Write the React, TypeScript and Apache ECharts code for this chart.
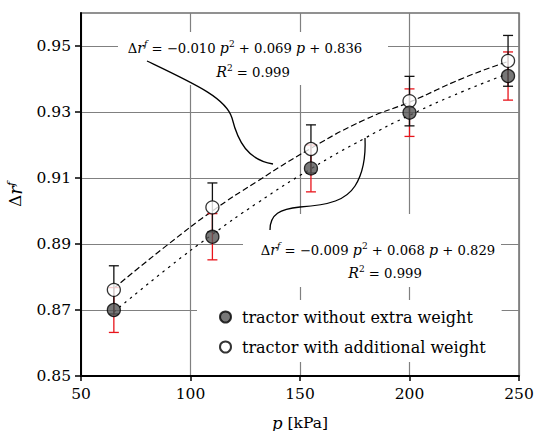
import React, { useEffect, useRef } from "react";
import * as echarts from "echarts";

// ---- data ----
const pressures = [65, 110, 155, 200, 245];
const withoutWeight = [0.870, 0.8922, 0.9129, 0.9298, 0.9409];
const withoutErr = [0.0068, 0.0070, 0.0071, 0.0072, 0.0073];
const withWeight = [0.8761, 0.9011, 0.9188, 0.9333, 0.9455];
const withErr = [0.0073, 0.0074, 0.0073, 0.0075, 0.0077];
const fitP = [65, 90, 110, 130, 155, 180, 200, 225, 245];
const fitWith = [0.8766, 0.890, 0.900, 0.9088, 0.919, 0.9278, 0.933, 0.9404, 0.9453];
const fitWithout = [0.8694, 0.8829, 0.8929, 0.9022, 0.9128, 0.9222, 0.929, 0.9364, 0.9416];
const yTicks = [0.85, 0.87, 0.89, 0.91, 0.93, 0.95];
const seriesNames = ["tractor without extra weight", "tractor with additional weight"];

const FONT = "DejaVu Serif";

const rich = {
  n: { fontFamily: FONT, fontSize: 13.2, color: "#000", lineHeight: 18 },
  i: { fontFamily: FONT, fontSize: 14.2, fontStyle: "italic", color: "#000", lineHeight: 18 },
  sup: { fontFamily: FONT, fontSize: 9, color: "#000", lineHeight: 9, verticalAlign: "top" },
  si: { fontFamily: FONT, fontSize: 9, fontStyle: "italic", color: "#000", lineHeight: 9, verticalAlign: "top" },
};

echarts.graphic.registerShape(
  "leader1",
  echarts.graphic.extendPath(
    "M147,61 C195,84 226,98 232,118 C238,142 248,160 273,164",
    {}
  )
);
echarts.graphic.registerShape(
  "leader2",
  echarts.graphic.extendPath(
    "M270,230 C270,214 280,209 300,207 C330,205 346,200 355,186 C362,175 366,160 365,138",
    {}
  )
);

function errBars(xs: number[], ys: number[], es: number[]) {
  return xs.map((x, k) => [x, ys[k] - es[k], ys[k] + es[k]]);
}

function makeErrSeries(name: string, data: number[][], color: string, z: number) {
  return {
    type: "custom",
    name,
    z,
    silent: true,
    encode: { x: 0, y: [1, 2] },
    data,
    renderItem: (params: any, api: any) => {
      const x = api.value(0);
      const lo = api.coord([x, api.value(1)]);
      const hi = api.coord([x, api.value(2)]);
      const w = 5;
      const style = { stroke: color, lineWidth: 1.3 };
      return {
        type: "group",
        children: [
          { type: "line", shape: { x1: hi[0], y1: hi[1], x2: lo[0], y2: lo[1] }, style },
          { type: "line", shape: { x1: hi[0] - w, y1: hi[1], x2: hi[0] + w, y2: hi[1] }, style },
          { type: "line", shape: { x1: lo[0] - w, y1: lo[1], x2: lo[0] + w, y2: lo[1] }, style },
        ],
      };
    },
  };
}

export default function App() {
  const ref = useRef<HTMLDivElement>(null);
  useEffect(() => {
    if (!ref.current) return;
    const chart = echarts.init(ref.current, undefined, { renderer: "svg" });
    const option: any = {
      animation: false,
      backgroundColor: "#fff",
      grid: {
        left: 81,
        right: 17,
        top: 13,
        bottom: 55,
        outerBoundsMode: "none",
        containLabel: false,
        show: true,
        borderColor: "#6e6e6e",
        borderWidth: 1.5,
        backgroundColor: "transparent",
      },
      xAxis: {
        type: "value",
        min: 50,
        max: 250,
        interval: 50,
        name: "{i|p}{n| [kPa]}",
        nameLocation: "middle",
        nameGap: 38,
        nameTextStyle: { rich: { ...rich, n: { ...rich.n, fontSize: 15.5 }, i: { ...rich.i, fontSize: 16.5 } } },
        axisLine: { lineStyle: { color: "#000", width: 2 } },
        axisTick: { inside: false, length: 5, lineStyle: { color: "#000", width: 1.5 } },
        axisLabel: { fontFamily: FONT, fontSize: 15.5, color: "#000", margin: 10 },
        splitLine: { show: true, lineStyle: { color: "#808080", width: 1.2 } },
      },
      yAxis: {
        type: "value",
        min: 0.85,
        max: 0.96,
        name: "{n|Δ}{i|r}{si|f}",
        nameLocation: "middle",
        nameRotate: 90,
        nameGap: 57,
        nameTextStyle: { rich: { ...rich, n: { ...rich.n, fontSize: 17 }, i: { ...rich.i, fontSize: 18 }, si: { ...rich.si, fontSize: 11 } } },
        axisLine: { show: true, lineStyle: { color: "#000", width: 2 } },
        axisTick: { show: true, inside: false, length: 6, customValues: yTicks, lineStyle: { color: "#000", width: 1.5 } },
        axisLabel: {
          fontFamily: FONT,
          fontSize: 15.5,
          color: "#000",
          margin: 10,
          customValues: yTicks,
          formatter: (v: number) => v.toFixed(2),
        },
        splitLine: { show: true, lineStyle: { color: "#808080", width: 1.2 } },
      },
      legend: {
        orient: "vertical",
        left: 197,
        top: 300,
        itemWidth: 11,
        itemHeight: 11,
        itemGap: 14,
        padding: [9, 16, 7, 22],
        backgroundColor: "#fff",
        textStyle: { fontFamily: FONT, fontSize: 16, color: "#000", padding: [0, 0, 0, 6] },
        data: [
          { name: seriesNames[0], icon: "circle" },
          { name: seriesNames[1], icon: "circle" },
        ],
      },
      series: [
        {
          type: "line",
          name: "fitWith",
          data: fitP.map((p, k) => [p, fitWith[k]]),
          smooth: true,
          symbol: "none",
          z: 3,
          lineStyle: { color: "#000", width: 1.2, type: [6, 3] },
        },
        {
          type: "line",
          name: "fitWithout",
          data: fitP.map((p, k) => [p, fitWithout[k]]),
          smooth: true,
          symbol: "none",
          z: 3,
          lineStyle: { color: "#000", width: 1.2, type: [2.5, 4.5] },
        },
        makeErrSeries("errWithout", errBars(pressures, withoutWeight, withoutErr), "#e8141b", 4),
        makeErrSeries("errWith", errBars(pressures, withWeight, withErr), "#111", 4),
        {
          type: "scatter",
          name: seriesNames[1],
          data: pressures.map((p, k) => [p, withWeight[k]]),
          symbol: "circle",
          symbolSize: 13,
          z: 5,
          itemStyle: { color: "#fff", borderColor: "#000", borderWidth: 1.3 },
        },
        {
          type: "scatter",
          name: seriesNames[0],
          data: pressures.map((p, k) => [p, withoutWeight[k]]),
          symbol: "circle",
          symbolSize: 13,
          z: 6,
          itemStyle: { color: "#555", borderColor: "#000", borderWidth: 1.3 },
        },
      ],
      graphic: [
        { type: "rect", z: 1, shape: { x: 118, y: 32, width: 270, height: 53 }, style: { fill: "#fff" } },
        { type: "rect", z: 1, shape: { x: 243, y: 214, width: 258, height: 73 }, style: { fill: "#fff" } },
        {
          type: "text",
          z: 10,
          x: 245,
          y: 48,
          style: {
            text: "{n|Δ}{i|r}{si|f}{n| = −0.010 }{i|p}{sup|2}{n| + 0.069 }{i|p}{n| + 0.836}",
            rich,
            align: "center",
            verticalAlign: "middle",
          },
        },
        {
          type: "text",
          z: 10,
          x: 253,
          y: 72,
          style: { text: "{i|R}{sup|2}{n| = 0.999}", rich, align: "center", verticalAlign: "middle" },
        },
        {
          type: "text",
          z: 10,
          x: 378,
          y: 250,
          style: {
            text: "{n|Δ}{i|r}{si|f}{n| = −0.009 }{i|p}{sup|2}{n| + 0.068 }{i|p}{n| + 0.829}",
            rich,
            align: "center",
            verticalAlign: "middle",
          },
        },
        {
          type: "text",
          z: 10,
          x: 385,
          y: 273,
          style: { text: "{i|R}{sup|2}{n| = 0.999}", rich, align: "center", verticalAlign: "middle" },
        },
        { type: "leader1", z: 10, style: { stroke: "#000", lineWidth: 1.3, fill: "none" } },
        { type: "leader2", z: 10, style: { stroke: "#000", lineWidth: 1.3, fill: "none" } },
      ],
    };
    chart.setOption(option);
    return () => chart.dispose();
  }, []);
  return (
    <div
      ref={ref}
      style={{ position: "fixed", left: 0, top: 0, width: 536, height: 431 }}
    />
  );
}
